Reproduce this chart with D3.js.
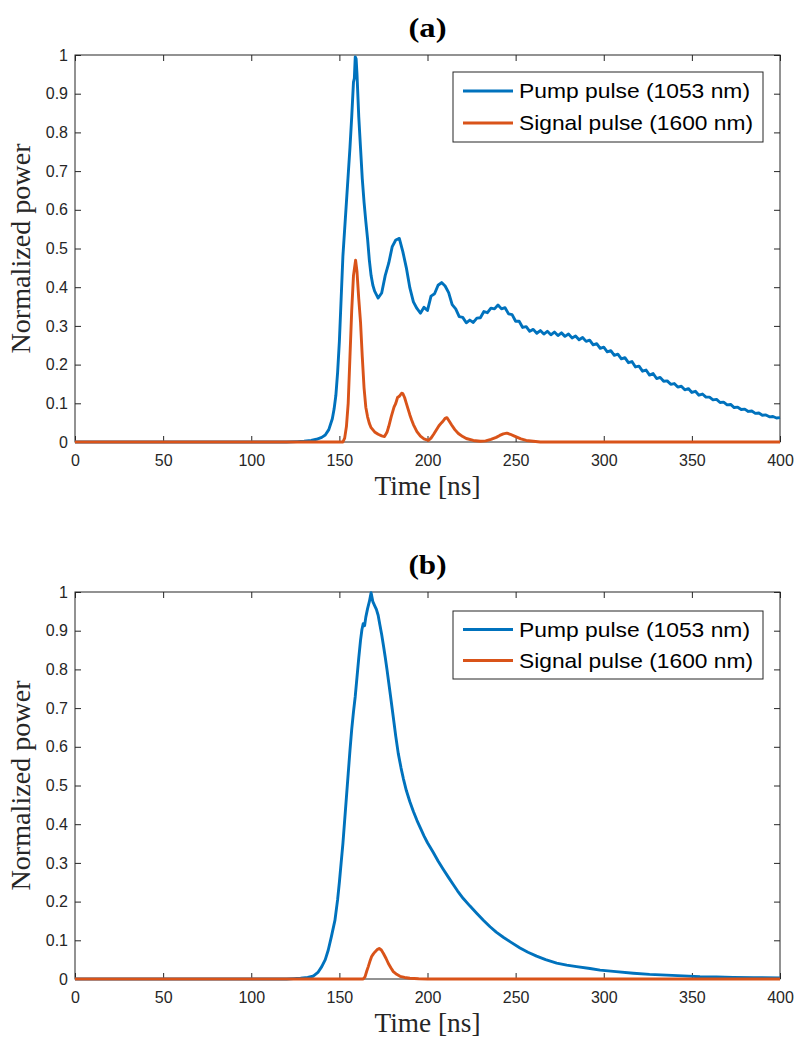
<!DOCTYPE html>
<html>
<head>
<meta charset="utf-8">
<script src="https://cdn.jsdelivr.net/npm/d3@7"></script>
<style>
  html, body { margin: 0; padding: 0; background: #fff; }
  svg { display: block; }
</style>
</head>
<body>
<svg id="chart" width="798" height="1044"></svg>
<script>
// ---------------- DATA ----------------
const xTicks = [0, 50, 100, 150, 200, 250, 300, 350, 400];
const yTicks = [0, 0.1, 0.2, 0.3, 0.4, 0.5, 0.6, 0.7, 0.8, 0.9, 1];
const yTickLabels = ["0", "0.1", "0.2", "0.3", "0.4", "0.5", "0.6", "0.7", "0.8", "0.9", "1"];
const panelTitles = ["(a)", "(b)"];
const seriesNames = ["Pump pulse (1053 nm)", "Signal pulse (1600 nm)"];
const xLabel = "Time [ns]";
const yLabel = "Normalized power";

// Panel (a) pump
const pumpA_t = [0,120,126,130,134,137,140,142,144,146,147,148,149,150,151,152,153,154,155,156,157,158,158.5,159,159.5,160,161,162,163,164,165,166,167,168,169,
  170,172,174,176,178,180,182,184,186,188,190,192,194,196,198,200,202,204,206,208,210,212,214,216,218,220,222,224,226,228,230,232,234,236,238,240,242,244,246,248,250,
  252,254,256,258,260,262,264,266,268,270,272,274,276,278,280,282,284,286,288,290,292,294,296,298,300,302,304,306,308,310,312,314,316,318,320,322,324,326,328,330,
  332,334,336,338,340,342,344,346,348,350,352,354,356,358,360,362,364,366,368,370,372,374,376,378,380,382,384,386,388,390,392,394,396,398,400];
const pumpA_v = [0,0,0.001,0.002,0.004,0.007,0.012,0.018,0.032,0.06,0.085,0.12,0.18,0.26,0.37,0.48,0.55,0.62,0.69,0.76,0.84,0.93,0.94,0.995,0.99,0.95,0.84,0.76,0.68,0.62,0.57,0.525,0.47,0.43,0.405,
  0.390,0.372,0.385,0.430,0.462,0.505,0.522,0.526,0.492,0.450,0.398,0.362,0.345,0.333,0.348,0.340,0.377,0.383,0.405,0.412,0.403,0.386,0.355,0.344,0.324,0.322,0.308,0.315,0.309,0.320,0.321,0.337,0.334,0.346,0.344,0.354,0.344,0.347,0.331,0.329,0.312,
  0.312,0.296,0.298,0.286,0.291,0.281,0.288,0.279,0.286,0.277,0.284,0.275,0.282,0.273,0.279,0.269,0.274,0.264,0.270,0.260,0.263,0.251,0.254,0.242,0.245,0.233,0.236,0.224,0.227,0.215,0.218,0.205,0.208,0.194,0.196,0.183,0.186,0.173,0.177,0.164,
  0.167,0.157,0.158,0.149,0.151,0.142,0.144,0.135,0.138,0.128,0.131,0.121,0.124,0.116,0.116,0.109,0.110,0.102,0.103,0.096,0.097,0.089,0.090,0.084,0.085,0.079,0.080,0.074,0.075,0.069,0.070,0.065,0.066,0.062,0.063];

// Panel (a) signal
const signalA_t = [0,152,153,154,155,156,157,158,159.2,160,161,162,163,164,165,166,167,168,170,172,174,175.6,177,178,179.4,181,182,183,184,185.3,186,187,188,189,190,191,192,194,196,198,200.5,202,203.5,205,206.5,208,209,210,211,212,213.7,215.5,217.5,220,222,226,230,233,236,239,241,243,245,247,249,251,253,256,260,264,400];
const signalA_v = [0,0,0.01,0.04,0.10,0.22,0.34,0.43,0.47,0.44,0.37,0.31,0.22,0.14,0.09,0.065,0.048,0.037,0.026,0.020,0.016,0.014,0.025,0.040,0.065,0.090,0.100,0.115,0.118,0.126,0.125,0.115,0.100,0.085,0.070,0.057,0.045,0.027,0.015,0.008,0.004,0.010,0.020,0.031,0.042,0.050,0.055,0.061,0.063,0.056,0.044,0.032,0.022,0.014,0.009,0.004,0.002,0.003,0.007,0.012,0.017,0.021,0.023,0.020,0.016,0.012,0.008,0.004,0.002,0,0];

// Panel (b) pump
const pumpB_t = [0,120,124,128,132,135,138,140,142,143.7,145.5,147.5,149,150,151,152,153,154,155,156,157,158,159,160,161,162,162.8,163.5,164.3,165,166,167,168,169,170,171,172,173,174,175,176,177,178,179,180,181,182,183.4,185,186.3,188,190,192,194,196,198,200,203.3,206,209,212,214.6,217,220.3,224,227.9,231.7,235.5,239,243,247,252.5,257,261.9,267,273.3,279,284.6,292.2,297.9,307,316.8,326,335.7,345,354.6,364,373.5,385,400];
const pumpB_v = [0,0,0.001,0.002,0.004,0.007,0.018,0.032,0.050,0.075,0.110,0.152,0.205,0.250,0.300,0.350,0.410,0.470,0.530,0.590,0.645,0.690,0.730,0.780,0.830,0.875,0.903,0.918,0.913,0.935,0.957,0.975,0.998,0.975,0.965,0.955,0.940,0.915,0.890,0.862,0.832,0.800,0.766,0.732,0.697,0.662,0.627,0.583,0.545,0.518,0.487,0.458,0.433,0.410,0.390,0.370,0.352,0.327,0.305,0.283,0.262,0.244,0.228,0.208,0.189,0.170,0.152,0.135,0.121,0.108,0.096,0.080,0.069,0.059,0.050,0.041,0.036,0.032,0.027,0.023,0.019,0.015,0.012,0.010,0.008,0.006,0.005,0.004,0.0035,0.003];

// Panel (b) signal
const signalB_t = [0,163.5,164.5,165.5,166.4,167.5,168.3,169.3,170.2,171.5,172.6,173.8,175,176.5,177.8,179.2,180.6,182.5,184.4,187,190,195,200,400];
const signalB_v = [0,0,0.005,0.020,0.032,0.048,0.058,0.065,0.070,0.076,0.079,0.075,0.066,0.053,0.040,0.029,0.019,0.012,0.007,0.004,0.002,0.0005,0,0];

// ---------------- DRAW ----------------
const svg = d3.select("#chart");
const INK = "#262626";
const colors = ["#0072BD", "#D95319"];
const left = 75, right = 780;

const panels = [
  { top: 55, bottom: 442, title: panelTitles[0],
    series: [ {t: pumpA_t, v: pumpA_v}, {t: signalA_t, v: signalA_v} ],
    legend: { x0: 453, y0: 72, x1: 763, y1: 142 } },
  { top: 592, bottom: 979, title: panelTitles[1],
    series: [ {t: pumpB_t, v: pumpB_v}, {t: signalB_t, v: signalB_v} ],
    legend: { x0: 453, y0: 611, x1: 763, y1: 679 } }
];
const legendTextWidths = [231, 234];

panels.forEach(p => {
  const x = d3.scaleLinear().domain([0, 400]).range([left, right]);
  const y = d3.scaleLinear().domain([0, 1]).range([p.bottom, p.top]);
  const g = svg.append("g");

  // frame
  g.append("rect")
    .attr("x", left).attr("y", p.top)
    .attr("width", right - left).attr("height", p.bottom - p.top)
    .attr("fill", "none").attr("stroke", INK).attr("stroke-width", 1);

  const styleAxis = sel => {
    sel.select(".domain").remove();
    sel.selectAll(".tick line").attr("stroke", INK).attr("stroke-width", 1);
    sel.selectAll(".tick text").attr("fill", INK)
      .style("font-family", "'Liberation Sans', Arial, Helvetica, sans-serif")
      .style("font-size", "16px");
  };

  g.append("g").attr("transform", `translate(0,${p.bottom})`)
    .call(d3.axisBottom(x).tickValues(xTicks).tickFormat(d3.format("d"))
      .tickSizeInner(-6).tickSizeOuter(0).tickPadding(13))
    .call(styleAxis);
  g.append("g").attr("transform", `translate(0,${p.top})`)
    .call(d3.axisTop(x).tickValues(xTicks).tickFormat("")
      .tickSizeInner(-6).tickSizeOuter(0))
    .call(styleAxis);
  g.append("g").attr("transform", `translate(${left},0)`)
    .call(d3.axisLeft(y).tickValues(yTicks).tickFormat((d, i) => yTickLabels[i])
      .tickSizeInner(-6).tickSizeOuter(0).tickPadding(7))
    .call(styleAxis);
  g.append("g").attr("transform", `translate(${right},0)`)
    .call(d3.axisRight(y).tickValues(yTicks).tickFormat("")
      .tickSizeInner(-6).tickSizeOuter(0))
    .call(styleAxis);

  // lines
  const line = d3.line().x(d => x(d[0])).y(d => y(d[1]));
  p.series.forEach((s, i) => {
    const pts = s.t.map((t, k) => [t, s.v[k]]);
    g.append("path").datum(pts)
      .attr("d", line)
      .attr("fill", "none")
      .attr("stroke", colors[i])
      .attr("stroke-width", 2.9)
      .attr("stroke-linejoin", "round");
  });

  // titles & labels
  const cx = (left + right) / 2;
  g.append("text").attr("x", cx).attr("y", p.top - 18)
    .attr("text-anchor", "middle")
    .style("font-family", "'Liberation Serif', 'Times New Roman', serif")
    .style("font-weight", "bold").style("font-size", "27px")
    .attr("textLength", 38).attr("lengthAdjust", "spacingAndGlyphs")
    .attr("fill", "#000").text(p.title);
  g.append("text").attr("x", cx).attr("y", p.bottom + 53)
    .attr("text-anchor", "middle")
    .style("font-family", "'Liberation Serif', 'Times New Roman', serif")
    .style("font-size", "27px")
    .attr("textLength", 106).attr("lengthAdjust", "spacingAndGlyphs")
    .attr("fill", INK).text(xLabel);
  g.append("text")
    .attr("transform", `translate(30,${(p.top + p.bottom) / 2}) rotate(-90)`)
    .attr("text-anchor", "middle")
    .style("font-family", "'Liberation Serif', 'Times New Roman', serif")
    .style("font-size", "27px")
    .attr("textLength", 210).attr("lengthAdjust", "spacingAndGlyphs")
    .attr("fill", INK).text(yLabel);

  // legend
  const L = p.legend;
  g.append("rect").attr("x", L.x0).attr("y", L.y0)
    .attr("width", L.x1 - L.x0).attr("height", L.y1 - L.y0)
    .attr("fill", "#fff").attr("stroke", INK).attr("stroke-width", 1);
  const rowH = (L.y1 - L.y0) / 2;
  seriesNames.forEach((name, i) => {
    const yy = L.y0 + rowH * (i + 0.5) + (i === 0 ? 1.5 : -1.5);
    g.append("line").attr("x1", L.x0 + 10).attr("x2", L.x0 + 60)
      .attr("y1", yy).attr("y2", yy)
      .attr("stroke", colors[i]).attr("stroke-width", 2.9);
    g.append("text").attr("x", L.x0 + 66).attr("y", yy)
      .attr("dy", "0.35em")
      .style("font-family", "'Liberation Sans', Arial, Helvetica, sans-serif")
      .style("font-size", "21px")
      .attr("textLength", legendTextWidths[i]).attr("lengthAdjust", "spacingAndGlyphs")
      .attr("fill", "#000").text(name);
  });
});
</script>
</body>
</html>
